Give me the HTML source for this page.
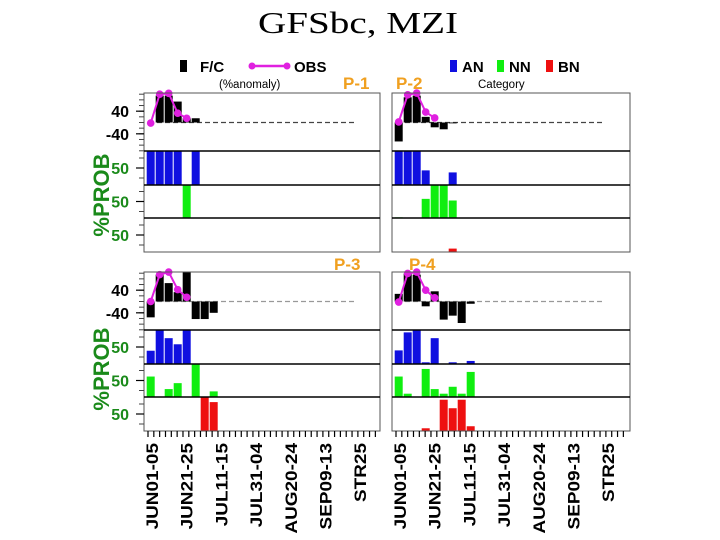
<!DOCTYPE html>
<html><head><meta charset="utf-8"><style>
body{margin:0;background:#fff;width:720px;height:540px;overflow:hidden}
svg{display:block}
text{font-family:"Liberation Sans",sans-serif;font-weight:bold}
</style></head><body>
<svg id="c" width="720" height="540" viewBox="0 0 720 540">
<text x="258" y="33" textLength="200" lengthAdjust="spacingAndGlyphs" style="font-family:'Liberation Serif',serif;font-weight:normal;font-size:31px">GFSbc, MZI</text>
<g>
<rect x="180" y="60" width="7" height="12" fill="#000"/>
<text x="200" y="72" font-size="15">F/C</text>
<line x1="250" y1="66" x2="288" y2="66" stroke="#e020e0" stroke-width="2.5"/>
<circle cx="252" cy="66" r="3.5" fill="#e020e0"/><circle cx="287" cy="66" r="3.5" fill="#e020e0"/>
<text x="294" y="72" font-size="15">OBS</text>
<text x="219" y="88" font-size="11.5" style="font-weight:normal">(%anomaly)</text>
</g>
<g>
<rect x="450" y="60" width="7" height="12" fill="#1010e0"/><text x="462" y="72" font-size="15">AN</text>
<rect x="497" y="60" width="7" height="12" fill="#10ee10"/><text x="509" y="72" font-size="15">NN</text>
<rect x="546" y="60" width="7" height="12" fill="#ee1010"/><text x="558" y="72" font-size="15">BN</text>
<text x="478" y="88" font-size="11.5" style="font-weight:normal">Category</text>
</g>
<g fill="#f0a020" font-size="17">
<text x="343" y="89">P-1</text>
<text x="396" y="89">P-2</text>
<text x="334" y="270">P-3</text>
<text x="409" y="270">P-4</text>
</g>
<text transform="translate(109,195) rotate(-90)" text-anchor="middle" font-size="22" fill="#1a8a1a">%PROB</text>
<text transform="translate(109,369) rotate(-90)" text-anchor="middle" font-size="22" fill="#1a8a1a">%PROB</text>
</svg>
<script>
const xLabels=["JUN01-05","JUN21-25","JUL11-15","JUL31-04","AUG20-24","SEP09-13","STR25"];
const fcP1=[0,95,95,74,15,15];
const obsP1=[-2,100,103,33,15];
const anP1=[100,100,100,100,0,100];
const nnP1=[0,0,0,0,100,0];
const bnP1=[];
const fcP2=[-67,89,95,20,-17,-24,-3];
const obsP2=[2,98,105,37,16];
const anP2=[100,100,100,43,0,0,37];
const nnP2=[2,0,0,58,100,100,53];
const bnP2=[0,0,0,0,0,0,10];
const fcP3=[-56,95,65,33,110,-62,-62,-40];
const obsP3=[0,95,105,42,15];
const anP3=[39,100,76,58,100];
const nnP3=[62,0,24,42,0,100,0,17];
const bnP3=[0,0,0,0,0,0,100,85];
const fcP4=[27,99,95,-17,36,-64,-50,-76,-8];
const obsP4=[-2,99,105,40,13];
const anP4=[40,93,100,5,76,0,5,0,9];
const nnP4=[62,10,0,85,24,10,31,10,76];
const bnP4=[0,0,0,8,0,92,67,92,14];
const anomTicks=[40,-40];
const probTick=50;

const svg=document.getElementById('c');
const NS='http://www.w3.org/2000/svg';
function mk(t,a,parent){const e=document.createElementNS(NS,t);for(const k in a)e.setAttribute(k,a[k]);(parent||svg).appendChild(e);return e;}

function panel(px,top,fc,obs,an,nn,bn,showY,dashCol,pname){
  const W=px===144?236:238;
  const aTop=top, aBot=top+58, z=top+29.5, k=0.283;
  const bands=[[aBot,aBot+34],[aBot+34,aBot+67],[aBot+67,aBot+101]];
  const g=mk('g',{});
  
  
  const xb=i=>px+2.7+i*9;
  const ya=v=>z-Math.max(-100,Math.min(104,v))*k;
  const dl=mk('line',{x1:px+5,y1:z,x2:px+212,y2:z,stroke:dashCol,'stroke-width':1.2,'stroke-dasharray':'5,3'},g);
  
  
  fc.forEach((v,i)=>{if(!v)return;const y1=ya(v);const r=mk('rect',{x:xb(i),y:Math.min(y1,z),width:8,height:Math.abs(y1-z),fill:'#000'},g);
    
    });
  const pts=obs.map((v,i)=>[xb(i)+4,ya(v)]);
  const pl=mk('polyline',{points:pts.map(p=>p.join(',')).join(' '),fill:'none',stroke:'#e020e0','stroke-width':2},g);
  
  
  pts.forEach(p=>{const c=mk('circle',{cx:p[0],cy:p[1],r:3.8,fill:'#e020e0'},g);
    
    });
  const series=[[an,'#1010e0','an-bar'],[nn,'#10ee10','nn-bar'],[bn,'#ee1010','bn-bar']];
  series.forEach((s,b)=>{const [t,bt]=bands[b];s[0].forEach((v,i)=>{if(!v)return;const h=(bt-t)*v/100;
    const r=mk('rect',{x:xb(i),y:bt-h,width:8,height:h,fill:s[1]},g);
    
    });});
  mk('rect',{x:px,y:aTop,width:W,height:bands[2][1]-aTop,fill:'none',stroke:'#555','stroke-width':1},g);
  bands.forEach(bd=>mk('line',{x1:px,y1:bd[0],x2:px+W,y2:bd[0],stroke:'#000','stroke-width':1.5},g));
  if(showY){
    for(let v=-100;v<=100;v+=20){mk('line',{x1:px-5,y1:ya(v),x2:px,y2:ya(v),stroke:'#444','stroke-width':1},g);}
    anomTicks.forEach(v=>{mk('line',{x1:px-8,y1:ya(v),x2:px,y2:ya(v),stroke:'#000','stroke-width':1.2},g);
      const t=mk('text',{x:px-15,y:ya(v)+6,'text-anchor':'end','font-size':16},g);t.textContent=String(v);
      
      });
    bands.forEach(([t,bt])=>{const y=(t+bt)/2;
      mk('line',{x1:px-8,y1:y,x2:px,y2:y,stroke:'#000','stroke-width':1.2},g);
      for(const d of [-10,10])mk('line',{x1:px-5,y1:y+d,x2:px,y2:y+d,stroke:'#444'},g);
      const tx=mk('text',{x:px-15,y:y+6,'text-anchor':'end','font-size':16,fill:'#1a8a1a'},g);tx.textContent=String(probTick);
      
      });
  }
  return {xb,bot:bands[2][1],W};
}
panel(144,93,fcP1,obsP1,anP1,nnP1,bnP1,true,'#444','panel-p1');
panel(392,93,fcP2,obsP2,anP2,nnP2,bnP2,false,'#444','panel-p2');
const p3=panel(144,272,fcP3,obsP3,anP3,nnP3,bnP3,true,'#999','panel-p3');
const p4=panel(392,272,fcP4,obsP4,anP4,nnP4,bnP4,false,'#999','panel-p4');
[[144,p3],[392,p4]].forEach(([px,p])=>{
  for(let i=0;i<40;i++){const x=px+4+i*5.83;if(x>px+p.W-2)break;mk('line',{x1:x,y1:p.bot,x2:x,y2:p.bot+6,stroke:'#000','stroke-width':1.2});}
  xLabels.forEach((l,i)=>{const x=px+8+i*34.7;
    const t=mk('text',{transform:`translate(${x+6},${p.bot+12}) rotate(-90) scale(1.15,1)`,'text-anchor':'end','font-size':16.5});
    t.textContent=l;
    
    });
});
</script>
</body></html>
